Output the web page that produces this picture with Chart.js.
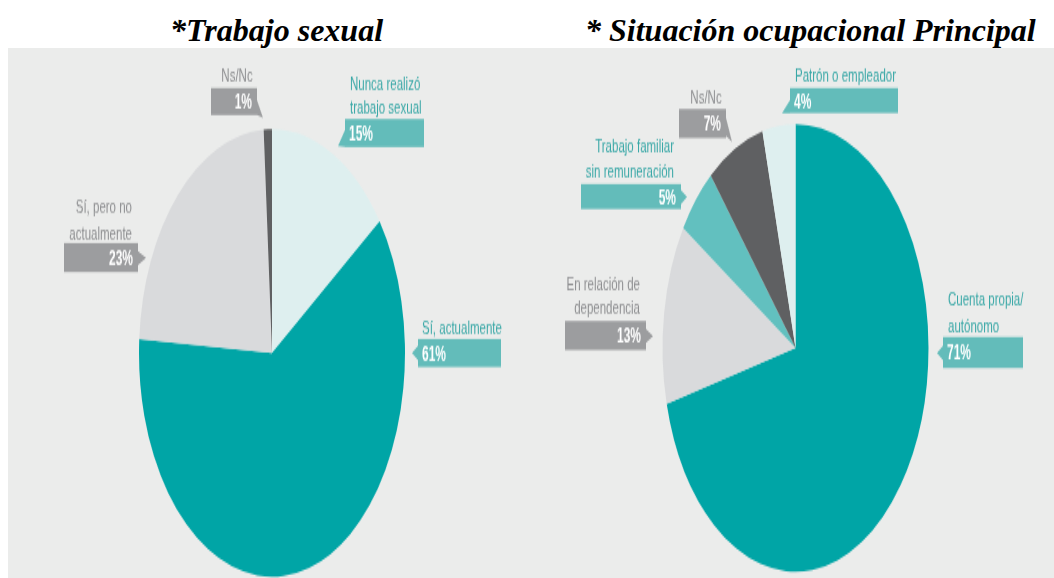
<!DOCTYPE html>
<html>
<head>
<meta charset="utf-8">
<script src="https://cdn.jsdelivr.net/npm/chart.js"></script>
<style>
  body { margin: 0; background: #fff; width: 1054px; height: 578px; overflow: hidden; position: relative; }
  .titulo { position: absolute; top: 14px; font: italic bold 32px "Liberation Serif", "Times New Roman", serif; line-height: 32px; white-space: nowrap; color: #000; }
  #fondo { position: absolute; left: 8px; top: 48px; width: 1046px; height: 530px; background: #ebeceb; }
  .caja { position: absolute; top: 48px; transform-origin: 0 0; transform: scaleY(1.6825); }
  canvas { display: block; }
</style>
</head>
<body>
<div id="fondo"></div>
<div class="titulo" style="left:170px">*Trabajo sexual</div>
<div class="titulo" style="left:585px">* Situación ocupacional Principal</div>
<div class="caja" style="left:8px"><canvas id="grafico1" width="527" height="315" style="width:527px;height:315px"></canvas></div>
<div class="caja" style="left:535px"><canvas id="grafico2" width="519" height="315" style="width:519px;height:315px"></canvas></div>

<script>
// datos
const categorias1 = [["Nunca realizó", "trabajo sexual"], ["Sí, actualmente"], ["Sí, pero no", "actualmente"], ["Ns/Nc"]];
const valores1 = [15, 61, 23, 1];

const categorias2 = [["Cuenta propia/", "autónomo"], ["En relación de", "dependencia"], ["Trabajo familiar", "sin remuneración"], ["Ns/Nc"], ["Patrón o empleador"]];
const valores2 = [71, 13, 5, 7, 4];

// estilos
const TEAL = "#00a5a6";
const CELESTE = "#deefef";
const GRIS_CLARO = "#d9dadc";
const GRIS_OSCURO = "#5f6062";
const TEAL_MEDIO = "#62c0bf";

const colores1 = [CELESTE, TEAL, GRIS_CLARO, GRIS_OSCURO];
const colores2 = [TEAL, GRIS_CLARO, TEAL_MEDIO, GRIS_OSCURO, CELESTE];

const TOPE = 48;
const K = 530 / 315;

// posicion de las etiquetas (en pixeles de la pagina)
const etiquetas1 = [
  { tono: "teal", alinTexto: "left", xTexto: 350, yTexto: [90, 113], alinValor: "left", caja: [345, 119, 424, 147], cola: { lado: "l", y0: 130, y1: 147, punta: [338, 146] } },
  { tono: "teal", alinTexto: "left", xTexto: 422, yTexto: [334], alinValor: "left", caja: [418, 339, 501, 367], cola: { lado: "l", y0: 346, y1: 360, punta: [412, 353] } },
  { tono: "gris", alinTexto: "right", xTexto: 132, yTexto: [213, 239], alinValor: "right", caja: [64, 243, 138, 272], cola: { lado: "r", y0: 251, y1: 265, punta: [146, 258] } },
  { tono: "gris", alinTexto: "center", xTexto: 237, yTexto: [82], alinValor: "right", caja: [211, 88, 257, 115], cola: { lado: "r", y0: 100, y1: 115, punta: [263, 118] } }
];

const etiquetas2 = [
  { tono: "teal", alinTexto: "left", xTexto: 948, yTexto: [305, 332], alinValor: "left", caja: [943, 337, 1023, 368], cola: { lado: "l", y0: 346, y1: 360, punta: [937, 353] } },
  { tono: "gris", alinTexto: "right", xTexto: 640, yTexto: [291, 314], alinValor: "right", caja: [565, 321, 646, 350], cola: { lado: "r", y0: 329, y1: 343, punta: [653, 336] } },
  { tono: "teal", alinTexto: "right", xTexto: 674, yTexto: [152, 177], alinValor: "right", caja: [581, 184, 681, 209], cola: { lado: "r", y0: 190, y1: 204, punta: [687, 197] } },
  { tono: "gris", alinTexto: "center", xTexto: 706, yTexto: [104], alinValor: "right", caja: [679, 109, 726, 138], cola: { lado: "r", y0: 118, y1: 136, punta: [732, 142] } },
  { tono: "teal", alinTexto: "left", xTexto: 795, yTexto: [81], alinValor: "left", caja: [790, 88, 898, 113], cola: { lado: "l", y0: 100, y1: 113, punta: [782, 113] } }
];

function pluginEtiquetas(lista, origenX) {
  return {
    id: "etiquetas",
    afterDraw: function (chart) {
      const ctx = chart.ctx;
      const cx = function (x) { return x - origenX; };
      const cy = function (y) { return (y - TOPE) / K; };
      const etiquetas = chart.data.labels;
      const valores = chart.data.datasets[0].data;
      ctx.save();
      for (var i = 0; i < lista.length; i++) {
        const e = lista[i];
        const colorCaja = e.tono === "teal" ? "#63bcba" : "#9c9d9f";
        const colorTexto = e.tono === "teal" ? "#3aa8a7" : "#8e8f91";
        const x0 = e.caja[0], y0 = e.caja[1], x1 = e.caja[2], y1 = e.caja[3];

        // caja con su punta
        ctx.fillStyle = colorCaja;
        const bx = e.cola.lado === "l" ? x0 : x1;
        ctx.beginPath();
        ctx.moveTo(cx(bx), cy(e.cola.y0));
        ctx.lineTo(cx(e.cola.punta[0]), cy(e.cola.punta[1]));
        ctx.lineTo(cx(bx), cy(e.cola.y1));
        ctx.closePath();
        ctx.fill();
        ctx.fillRect(cx(x0), cy(y0), x1 - x0, cy(y1) - cy(y0));

        // nombre de la categoria
        ctx.font = "11.5px 'Liberation Sans', Arial, sans-serif";
        ctx.fillStyle = colorTexto;
        ctx.textAlign = e.alinTexto;
        ctx.textBaseline = "alphabetic";
        for (var j = 0; j < etiquetas[i].length; j++) {
          ctx.fillText(etiquetas[i][j], cx(e.xTexto), cy(e.yTexto[j]));
        }

        // porcentaje
        ctx.font = "bold 12px 'Liberation Sans', Arial, sans-serif";
        ctx.fillStyle = "#fff";
        ctx.textAlign = e.alinValor;
        const xv = e.alinValor === "left" ? x0 + 4 : x1 - 5;
        ctx.fillText(valores[i] + "%", cx(xv), (cy(y0) + cy(y1)) / 2 + 4.3);
      }
      ctx.restore();
    }
  };
}

function opciones(padding) {
  return {
    responsive: false,
    animation: false,
    devicePixelRatio: 1,
    events: [],
    layout: { padding: padding },
    plugins: {
      legend: { display: false },
      tooltip: { enabled: false }
    }
  };
}

new Chart(document.getElementById("grafico1"), {
  type: "pie",
  data: {
    labels: categorias1,
    datasets: [{
      data: valores1,
      backgroundColor: colores1,
      borderWidth: 0,
      hoverOffset: 0,
      offset: 0
    }]
  },
  options: opciones({ left: 131, right: 130, top: 48.3, bottom: 0.7 }),
  plugins: [pluginEtiquetas(etiquetas1, 8)]
});

new Chart(document.getElementById("grafico2"), {
  type: "pie",
  data: {
    labels: categorias2,
    datasets: [{
      data: valores2,
      backgroundColor: colores2,
      borderWidth: 0,
      hoverOffset: 0,
      offset: 0
    }]
  },
  options: opciones({ left: 127.5, right: 125.5, top: 45.3, bottom: 3.7 }),
  plugins: [pluginEtiquetas(etiquetas2, 535)]
});
</script>
</body>
</html>
